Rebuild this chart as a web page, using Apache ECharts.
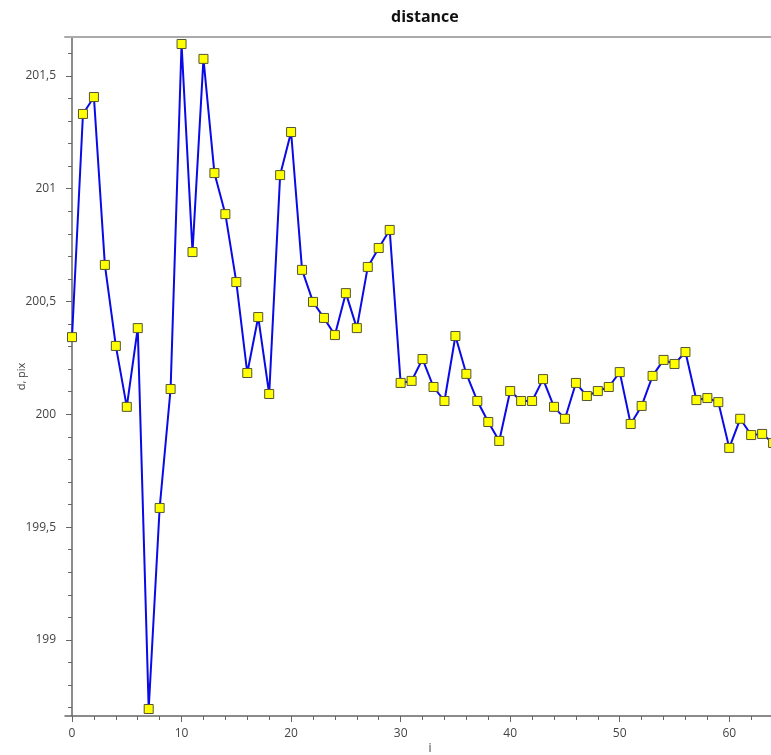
<!DOCTYPE html>
<html>
<head>
<meta charset="utf-8">
<title>distance</title>
<script src="https://cdn.jsdelivr.net/npm/echarts@6/dist/echarts.min.js"></script>
<style>
  html, body { margin: 0; padding: 0; background: #fff; }
  #chart { width: 771px; height: 755px; }
</style>
</head>
<body>
<div id="chart"></div>
<script>
// measured distances, one per frame i
var indexValues = [
  0, 1, 2, 3, 4, 5, 6, 7, 8, 9,
  10, 11, 12, 13, 14, 15, 16, 17, 18, 19,
  20, 21, 22, 23, 24, 25, 26, 27, 28, 29,
  30, 31, 32, 33, 34, 35, 36, 37, 38, 39,
  40, 41, 42, 43, 44, 45, 46, 47, 48, 49,
  50, 51, 52, 53, 54, 55, 56, 57, 58, 59,
  60, 61, 62, 63, 64
]
var distValues = [
  200.342, 201.331, 201.406, 200.662, 200.303, 200.033, 200.382, 198.694, 199.585, 200.112,
  201.641, 200.719, 201.575, 201.069, 200.887, 200.586, 200.183, 200.431, 200.090, 201.060,
  201.251, 200.640, 200.498, 200.427, 200.351, 200.537, 200.382, 200.653, 200.737, 200.817,
  200.139, 200.148, 200.245, 200.121, 200.059, 200.347, 200.179, 200.059, 199.966, 199.882,
  200.103, 200.059, 200.059, 200.156, 200.033, 199.980, 200.139, 200.081, 200.103, 200.121,
  200.187, 199.957, 200.037, 200.170, 200.241, 200.223, 200.276, 200.063, 200.072, 200.054,
  199.851, 199.980, 199.908, 199.913, 199.873
]

// tick labels / tick positions
var xMajorTicks = [0, 10, 20, 30, 40, 50, 60]
var xMinorTicks = [2, 4, 6, 8, 12, 14, 16, 18, 22, 24, 26, 28, 32, 34, 36, 38,
  42, 44, 46, 48, 52, 54, 56, 58, 62, 64]
var yMajorTicks = [199, 199.5, 200, 200.5, 201, 201.5]
var yMinorTicks = [198.7, 198.8, 198.9, 199.1, 199.2, 199.3, 199.4, 199.6, 199.7, 199.8, 199.9,
  200.1, 200.2, 200.3, 200.4, 200.6, 200.7, 200.8, 200.9, 201.1, 201.2, 201.3, 201.4, 201.6]

var X_MIN = -0.64, X_MAX = 66
var Y_MIN = 198.663, Y_MAX = 201.672

var axisColor = '#666'
var textColor = '#444'
var font = '"Open Sans", "Noto Sans", sans-serif'

var points = indexValues.map(function(i, k) { return [i, distValues[k]] })

var chart = echarts.init(document.getElementById('chart'))
chart.setOption({
  animation: false,
  backgroundColor: '#fff',
  title: {
    text: 'distance',
    left: 386,
    top: 4,
    textStyle: { fontFamily: font, fontSize: 16, fontWeight: 'bold', color: '#111' }
  },
  // plot runs past the right edge of the window, like the original
  grid: { left: 65, top: 37, width: 730, height: 679, containLabel: false, outerBoundsMode: 'none' },
  xAxis: [
    {
      type: 'value',
      min: X_MIN,
      max: X_MAX,
      name: 'i',
      nameLocation: 'middle',
      nameGap: 27,
      nameMoveOverlap: false,
      nameTextStyle: { fontFamily: font, fontSize: 12, color: textColor },
      axisLine: { show: true, lineStyle: { color: axisColor, width: 1.5 } },
      axisTick: { show: true, customValues: xMajorTicks, length: 6, lineStyle: { color: axisColor } },
      axisLabel: { customValues: xMajorTicks, margin: 12, fontFamily: font, fontSize: 12, color: textColor },
      splitLine: { show: false }
    },
    {
      // minor ticks
      type: 'value',
      min: X_MIN,
      max: X_MAX,
      position: 'bottom',
      axisLine: { show: false },
      axisTick: { show: true, customValues: xMinorTicks, length: 4, lineStyle: { color: axisColor } },
      axisLabel: { show: false },
      splitLine: { show: false }
    },
    {
      // grey frame on top
      type: 'value',
      min: X_MIN,
      max: X_MAX,
      position: 'top',
      axisLine: { show: true, lineStyle: { color: '#aaa', width: 2 } },
      axisTick: { show: false },
      axisLabel: { show: false },
      splitLine: { show: false }
    }
  ],
  yAxis: [
    {
      type: 'value',
      min: Y_MIN,
      max: Y_MAX,
      name: 'd, pix',
      nameLocation: 'middle',
      nameGap: 38,
      nameMoveOverlap: false,
      nameTextStyle: { fontFamily: font, fontSize: 11, color: textColor },
      axisLine: { show: true, lineStyle: { color: axisColor, width: 1.5 } },
      axisTick: { show: true, customValues: yMajorTicks, length: 6, lineStyle: { color: axisColor } },
      axisLabel: {
        customValues: yMajorTicks,
        margin: 9,
        fontFamily: font,
        fontSize: 12,
        color: textColor,
        formatter: function(v) { return String(v).replace('.', ',') }
      },
      splitLine: { show: false }
    },
    {
      // minor ticks
      type: 'value',
      min: Y_MIN,
      max: Y_MAX,
      position: 'left',
      axisLine: { show: false },
      axisTick: { show: true, customValues: yMinorTicks, length: 4, lineStyle: { color: axisColor } },
      axisLabel: { show: false },
      splitLine: { show: false }
    }
  ],
  series: [
    {
      type: 'line',
      data: points,
      xAxisIndex: 0,
      yAxisIndex: 0,
      clip: false,
      symbol: 'rect',
      symbolSize: 9,
      showAllSymbol: true,
      lineStyle: { color: '#0a0ae6', width: 2 },
      itemStyle: { color: '#ffff00', borderColor: '#555533', borderWidth: 1 }
    }
  ]
})
</script>
</body>
</html>
